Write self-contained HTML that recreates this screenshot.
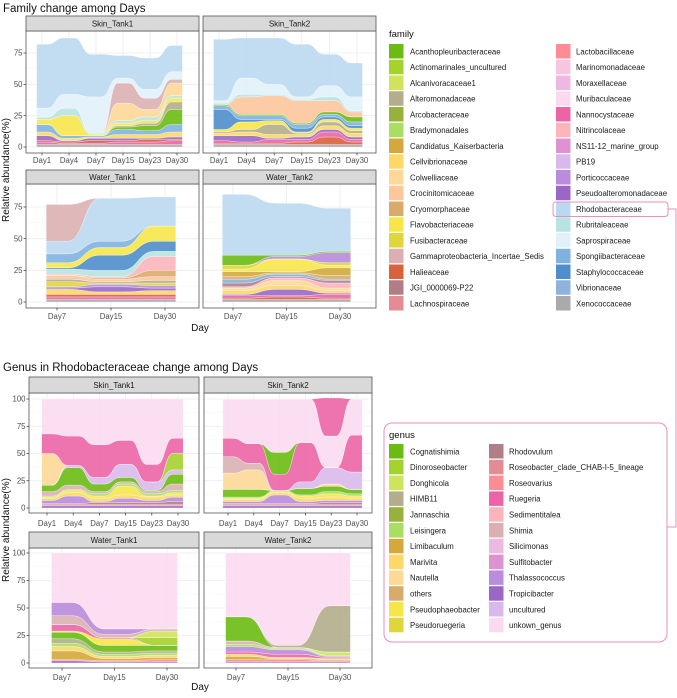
<!DOCTYPE html>
<html><head><meta charset="utf-8"><style>
body{margin:0;background:#fff;font-family:"Liberation Sans",sans-serif}
svg text{font-family:"Liberation Sans",sans-serif}
</style></head><body>
<svg id="s" width="677" height="693" viewBox="0 0 677 693" xmlns="http://www.w3.org/2000/svg">
<text x="3" y="12" font-size="11.5" fill="#111">Family change among Days</text>
<text x="3" y="371" font-size="11.5" fill="#111">Genus in Rhodobacteraceae change among Days</text>
<text x="200" y="331" font-size="10" text-anchor="middle" fill="#111">Day</text>
<text x="200" y="690" font-size="10" text-anchor="middle" fill="#111">Day</text>
<text transform="translate(9,170) rotate(-90)" font-size="10" text-anchor="middle" fill="#111">Relative abundance(%)</text>
<text transform="translate(9,530) rotate(-90)" font-size="10" text-anchor="middle" fill="#111">Relative abundance(%)</text>
<g id="panels"></g>
<g id="legends"></g>
<rect x="553" y="202" width="115" height="14.5" rx="3" fill="none" stroke="#e68fc1" stroke-width="1"/>
<rect x="384" y="423" width="283" height="219" rx="8" fill="none" stroke="#e68fc1" stroke-width="1"/>
<polyline points="668,209 676,209 676,527 667,527" fill="none" stroke="#e68fc1" stroke-width="1"/>
</svg>
<script>
const NS="http://www.w3.org/2000/svg";
const famNames=["Acanthopleuribacteraceae","Actinomarinales_uncultured","Alcanivoracaceae1","Alteromonadaceae","Arcobacteraceae","Bradymonadales","Candidatus_Kaiserbacteria","Cellvibrionaceae","Colwelliaceae","Crocinitomicaceae","Cryomorphaceae","Flavobacteriaceae","Fusibacteraceae","Gammaproteobacteria_Incertae_Sedis","Halieaceae","JGI_0000069-P22","Lachnospiraceae","Lactobacillaceae","Marinomonadaceae","Moraxellaceae","Muribaculaceae","Nannocystaceae","Nitrincolaceae","NS11-12_marine_group","PB19","Porticoccaceae","Pseudoalteromonadaceae","Rhodobacteraceae","Rubritaleaceae","Saprospiraceae","Spongiibacteraceae","Staphylococcaceae","Vibrionaceae","Xenococcaceae"];
const famColors=["#6bbb12","#a6d22e","#cfe45a","#b3ad8b","#97b23c","#a8df62","#d4a83c","#fdd868","#fdd897","#fdc79c","#d9ab6b","#f7e64a","#ded63c","#dcb0b3","#d9613b","#b07f86","#e48c93","#fd8c95","#f9c4dd","#eeb8e2","#fbdaf0","#eb65a6","#fdb4bb","#dd92d1","#d9b9ec","#b98cdc","#9a67c7","#bbd8f0","#b9e3e0","#e1f1fa","#7fb3df","#4f8ecb","#8fb3dc","#aaaaaa"];
const genNames=["Cognatishimia","Dinoroseobacter","Donghicola","HIMB11","Jannaschia","Leisingera","Limibaculum","Marivita","Nautella","others","Pseudophaeobacter","Pseudoruegeria","Rhodovulum","Roseobacter_clade_CHAB-I-5_lineage","Roseovarius","Ruegeria","Sedimentitalea","Shimia","Silicimonas","Sulfitobacter","Thalassococcus","Tropicibacter","uncultured","unkown_genus"];
const genColors=["#6bbb12","#a6d22e","#cfe45a","#b3ad8b","#97b23c","#a8df62","#d4a83c","#fdd868","#fdd897","#d9ab6b","#f7e64a","#ded63c","#b07f86","#e48c93","#fd8c95","#eb65a6","#fdb4bb","#dcb0b3","#eeb8e2","#dd92d1","#b98cdc","#9a67c7","#d9b9ec","#fbdaf0"];

const days6=["Day1","Day4","Day7","Day15","Day23","Day30"];
const days3=["Day7","Day15","Day30"];

const famSkin1Taxa=["Xenococcaceae","Nannocystaceae","Halieaceae","Pseudoalteromonadaceae","Cellvibrionaceae","Spongiibacteraceae","Acanthopleuribacteraceae","Alteromonadaceae","Flavobacteriaceae","Rubritaleaceae","Colwelliaceae","Gammaproteobacteria_Incertae_Sedis","Saprospiraceae","Rhodobacteraceae"];
const famSkin1Vals=[[2,2,2,2,2,2],[2,1,1,2,2,3],[1,1,2,1,2,1],[4,1,2,2,1,2],[3,2,1,3,3,4],[6,2,1,4,3,6],[0,0,0,2,4,12],[0,0,0,1,2,6],[4,16,1,2,2,3],[2,6,1,2,3,2],[0,0,0,14,6,10],[0,0,0,16,9,3],[7,11,29,4,7,6],[51,45,34,18,25,21]];
const famSkin2Taxa=["Xenococcaceae","Halieaceae","Nannocystaceae","Pseudoalteromonadaceae","Cellvibrionaceae","Alteromonadaceae","Flavobacteriaceae","Staphylococcaceae","Spongiibacteraceae","Acanthopleuribacteraceae","Crocinitomicaceae","Rubritaleaceae","Saprospiraceae","Rhodobacteraceae"];
const famSkin2Vals=[[2,2,2,2,2,2],[1,1,1,2,6,2],[2,1,3,2,4,2],[4,5,1,2,2,2],[2,3,3,2,3,3],[1,2,8,1,3,2],[2,6,3,1,2,2],[16,2,1,3,2,2],[3,3,3,3,2,3],[1,1,1,1,2,4],[0,14,15,18,9,4],[1,2,1,1,3,1],[2,13,8,2,9,11],[49,32,37,42,25,27]];
const famWater1Taxa=["Xenococcaceae","Nannocystaceae","Halieaceae","Cellvibrionaceae","Pseudoalteromonadaceae","Porticoccaceae","Fusibacteraceae","Alteromonadaceae","Crocinitomicaceae","Cryomorphaceae","Nitrincolaceae","Rubritaleaceae","Staphylococcaceae","Flavobacteriaceae","Spongiibacteraceae","Rhodobacteraceae","Gammaproteobacteria_Incertae_Sedis"];
const famWater1Vals=[[2,2,2],[2,2,2],[2,2,2],[4,2,3],[1,4,2],[1,2,2],[4,1,2],[2,1,2],[3,2,3],[0,1,5],[1,1,11],[4,5,4],[1,12,8],[4,6,12],[7,5,0],[10,34,23],[29,0,0]];
const famWater2Taxa=["Xenococcaceae","Halieaceae","Nannocystaceae","Pseudoalteromonadaceae","Cellvibrionaceae","Colwelliaceae","Nitrincolaceae","JGI_0000069-P22","Spongiibacteraceae","Cryomorphaceae","Candidatus_Kaiserbacteria","Flavobacteriaceae","Fusibacteraceae","Porticoccaceae","Acanthopleuribacteraceae","Rhodobacteraceae"];
const famWater2Vals=[[2,2,2],[1,2,1],[2,1,3],[1,5,1],[3,3,2],[2,4,2],[1,2,4],[3,1,2],[3,2,1],[2,1,3],[4,1,6],[2,10,2],[3,0,2],[0,2,8],[8,1,1],[48,41,34]];

const genSkin1Taxa=["Tropicibacter","Roseovarius","Rhodovulum","Thalassococcus","Marivita","Pseudophaeobacter","Leisingera","Shimia","Cognatishimia","uncultured","Dinoroseobacter","Nautella","Ruegeria","unkown_genus"];
const genSkin1Vals=[[2,2,2,2,2,2],[1,1,1,1,1,1],[1,1,2,2,2,3],[3,7,1,4,2,4],[2,3,3,3,3,2],[1,2,2,8,1,2],[1,1,2,2,2,2],[4,4,2,2,2,6],[6,16,7,4,1,9],[0,2,6,12,8,4],[0,0,0,0,0,15],[29,0,0,0,0,0],[18,27,30,22,16,14],[32,34,42,38,60,36]];
const genSkin2Taxa=["Tropicibacter","Roseovarius","Rhodovulum","Thalassococcus","Marivita","Pseudophaeobacter","Leisingera","Cognatishimia","Nautella","Shimia","uncultured","Ruegeria","Cognatishimia","unkown_genus","Ruegeria"];
const genSkin2Vals=[[2,2,2,2,2,2],[1,1,1,1,1,1],[1,1,1,1,2,2],[2,2,8,2,2,2],[2,2,2,3,3,2],[1,1,1,2,3,2],[1,1,1,1,2,2],[7,7,0,6,5,4],[15,18,0,0,2,0],[15,6,0,0,0,0],[0,0,0,6,15,16],[17,18,15,36,0,34],[0,0,20,0,0,0],[36,41,49,40,29,33],[0,0,0,0,35,0]];
const genWater1Taxa=["Tropicibacter","Roseovarius","Limibaculum","Marivita","Leisingera","HIMB11","Cognatishimia","Pseudophaeobacter","Ruegeria","Dinoroseobacter","Donghicola","Shimia","Thalassococcus","unkown_genus"];
const genWater1Vals=[[2,1,1],[1,1,2],[8,2,2],[4,2,2],[3,2,2],[4,2,2],[6,6,5],[1,6,0],[6,1,0],[0,0,7],[0,0,6],[8,3,2],[12,5,0],[45,69,69]];
const genWater2Taxa=["Tropicibacter","Roseovarius","Limibaculum","Marivita","Ruegeria","Thalassococcus","Leisingera","Shimia","Donghicola","Cognatishimia","HIMB11","unkown_genus"];
const genWater2Vals=[[1,1,1],[2,2,1],[3,1,1],[2,1,1],[2,3,1],[5,4,1],[2,1,1],[3,1,0],[0,0,3],[22,0,0],[0,2,42],[58,84,48]];

const famTicks=[0,25,50,75], genTicks=[0,25,50,75,100];

const panels=[
 {name:"Skin_Tank1",chart:"family",x0:26,x1:199,sy:16,by:31,b1:153,xs:[42,177],y0:147,ypu:1.2533,days:days6,taxa:famSkin1Taxa,vals:famSkin1Vals,ticks:famTicks,left:true,tl:160},
 {name:"Skin_Tank2",chart:"family",x0:203,x1:376,sy:16,by:31,b1:153,xs:[219,357],y0:147,ypu:1.2533,days:days6,taxa:famSkin2Taxa,vals:famSkin2Vals,ticks:famTicks,left:false,tl:160},
 {name:"Water_Tank1",chart:"family",x0:26,x1:199,sy:170,by:184,b1:308,xs:[57,165],y0:302,ypu:1.2667,days:days3,taxa:famWater1Taxa,vals:famWater1Vals,ticks:famTicks,left:true,tl:316},
 {name:"Water_Tank2",chart:"family",x0:203,x1:376,sy:170,by:184,b1:308,xs:[233,340],y0:302,ypu:1.2667,days:days3,taxa:famWater2Taxa,vals:famWater2Vals,ticks:famTicks,left:false,tl:316},
 {name:"Skin_Tank1",chart:"genus",x0:29,x1:199,sy:377,by:393,b1:513,xs:[47,178],y0:508,ypu:1.09,days:days6,taxa:genSkin1Taxa,vals:genSkin1Vals,ticks:genTicks,left:true,tl:523},
 {name:"Skin_Tank2",chart:"genus",x0:204,x1:372,sy:377,by:393,b1:513,xs:[228,357],y0:508,ypu:1.09,days:days6,taxa:genSkin2Taxa,vals:genSkin2Vals,ticks:genTicks,left:false,tl:523},
 {name:"Water_Tank1",chart:"genus",x0:29,x1:199,sy:532,by:548,b1:668,xs:[62,167],y0:663,ypu:1.1,days:days3,taxa:genWater1Taxa,vals:genWater1Vals,ticks:genTicks,left:true,tl:677},
 {name:"Water_Tank2",chart:"genus",x0:204,x1:372,sy:532,by:548,b1:668,xs:[236,340],y0:663,ypu:1.1,days:days3,taxa:genWater2Taxa,vals:genWater2Vals,ticks:genTicks,left:false,tl:677}
];
function mk(tag,attrs,parent){const e=document.createElementNS(NS,tag);for(const k in attrs)e.setAttribute(k,attrs[k]);parent.appendChild(e);return e;}
const root=document.getElementById("panels");
panels.forEach(p=>{
 const g=mk("g",{},root);
 
 
 const n=p.days.length, sp=(p.xs[1]-p.xs[0])/(n-1);
 const X=i=>p.xs[0]+i*sp, Y=v=>p.y0-v*p.ypu;
 mk("rect",{x:p.x0,y:p.by,width:p.x1-p.x0,height:p.b1-p.by,fill:"#fff"},g);
 for(let k=0;k<p.ticks.length;k++){
  const t=p.ticks[k];
  mk("line",{x1:p.x0,x2:p.x1,y1:Y(t),y2:Y(t),stroke:"#ebebeb","stroke-width":0.8},g);
  if(k<p.ticks.length-1){const m=(t+p.ticks[k+1])/2;mk("line",{x1:p.x0,x2:p.x1,y1:Y(m),y2:Y(m),stroke:"#f4f4f4","stroke-width":0.5},g);}
 }
 for(let i=0;i<n;i++){mk("line",{x1:X(i),x2:X(i),y1:p.by,y2:p.b1,stroke:"#ebebeb","stroke-width":0.8},g);}
 const hw=sp*0.2;
 const cum=new Array(n).fill(0);
 const names=p.chart==="family"?famNames:genNames, cols=p.chart==="family"?famColors:genColors;
 p.taxa.forEach((tx,si)=>{
  const v=p.vals[si];
  const lo=cum.slice(), hi=cum.map((c,i)=>c+v[i]);
  for(let i=0;i<n;i++)cum[i]=hi[i];
  if(v.every(a=>a===0))return;
  let d="M"+(X(0)-hw)+","+Y(hi[0]);
  for(let i=0;i<n;i++){
   d+=" L"+(X(i)+hw)+","+Y(hi[i]);
   if(i<n-1){const a=X(i)+hw,b=X(i+1)-hw,m=(a+b)/2;d+=" C"+m+","+Y(hi[i])+" "+m+","+Y(hi[i+1])+" "+b+","+Y(hi[i+1]);}
  }
  d+=" L"+(X(n-1)+hw)+","+Y(lo[n-1]);
  for(let i=n-1;i>=0;i--){
   d+=" L"+(X(i)-hw)+","+Y(lo[i]);
   if(i>0){const a=X(i)-hw,b=X(i-1)+hw,m=(a+b)/2;d+=" C"+m+","+Y(lo[i])+" "+m+","+Y(lo[i-1])+" "+b+","+Y(lo[i-1]);}
  }
  d+=" Z";
  const path=mk("path",{d:d,fill:cols[names.indexOf(tx)],"fill-opacity":0.9,stroke:"#fff","stroke-width":0.3},g);
  
  
 });
 mk("rect",{x:p.x0,y:p.by,width:p.x1-p.x0,height:p.b1-p.by,fill:"none",stroke:"#555","stroke-width":0.8},g);
 const strip=mk("rect",{x:p.x0,y:p.sy,width:p.x1-p.x0,height:p.by-p.sy,fill:"#d9d9d9",stroke:"#555","stroke-width":0.8},g);
 
 
 const st=mk("text",{x:(p.x0+p.x1)/2,y:(p.sy+p.by)/2+3,"font-size":8,"text-anchor":"middle",fill:"#1a1a1a"},g);
 st.textContent=p.name;
 
 
 for(let i=0;i<n;i++){
  mk("line",{x1:X(i),x2:X(i),y1:p.b1,y2:p.b1+2.5,stroke:"#333","stroke-width":0.7},g);
  const t=mk("text",{x:X(i),y:p.tl+3,"font-size":7.8,"text-anchor":"middle",fill:"#4d4d4d"},g);
  t.textContent=p.days[i];
  
  
 }
 if(p.left){
  p.ticks.forEach(tk=>{
   mk("line",{x1:p.x0-2.5,x2:p.x0,y1:Y(tk),y2:Y(tk),stroke:"#333","stroke-width":0.7},g);
   const t=mk("text",{x:p.x0-3.5,y:Y(tk)+2.7,"font-size":7.8,"text-anchor":"end",fill:"#4d4d4d"},g);
   t.textContent=tk;
   
   
  });
 }
});
const lg=document.getElementById("legends");
function legend(title,names,cols,tx,ty,rowsPer,colX,labX,y0,step,prefix){
 const t=mk("text",{x:tx,y:ty,"font-size":9.5,fill:"#111"},lg);t.textContent=title;
 
 
 names.forEach((nm,i)=>{
  const c=Math.floor(i/rowsPer), r=i%rowsPer;
  const g=mk("g",{},lg);
  
  
  mk("rect",{x:colX[c],y:y0+r*step,width:14.5,height:14.5,fill:cols[i]},g);
  const l=mk("text",{x:labX[c],y:y0+r*step+10.3,"font-size":7.8,fill:"#1a1a1a"},g);l.textContent=nm;
 });
}
legend("family",famNames,famColors,389,37,17,[389,556],[410,576],44,15.75,"family");
legend("genus",genNames,genColors,389,438,12,[389,489],[410,509],444,15.8,"genus");
</script>
</body></html>
